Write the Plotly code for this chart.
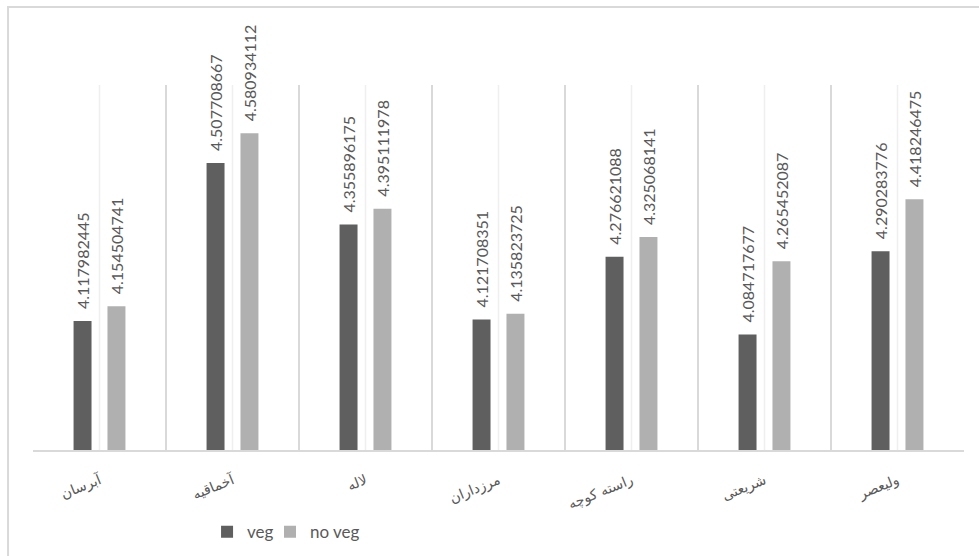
import plotly.graph_objects as go

# Mean scores per street, with and without vegetation
streets = ["آبرسان", "آخماقیه", "لاله", "مرزداران", "راسته کوچه", "شریعتی", "ولیعصر"]
veg = [4.117982445, 4.507708667, 4.355896175, 4.121708351, 4.276621088, 4.084717677, 4.290283776]
no_veg = [4.154504741, 4.580934112, 4.395111978, 4.135823725, 4.325068141, 4.265452087, 4.418246475]

series_names = ["veg", "no veg"]
series_colors = ["#5f5f5f", "#b0b0b0"]
y_range = [3.8, 4.7]

label_color = "#595959"
grid_color = "#d9d9d9"

fig = go.Figure()
for name, vals, color, lg in zip(series_names, [veg, no_veg], series_colors, ["legend", "legend2"]):
    fig.add_trace(go.Bar(x=streets, y=vals, name=name, marker_color=color,
                         marker_line_width=0, legend=lg))

# value labels, rotated, above each bar
for vals, shift in [(veg, -17), (no_veg, 17)]:
    for s, v in zip(streets, vals):
        fig.add_annotation(x=s, y=v, text=f"{v}", textangle=-90, showarrow=False,
                           xanchor="center", yanchor="bottom", xshift=shift, yshift=10,
                           font=dict(family="Lato", size=16, color=label_color))

# faint line through the middle of each category
for s in streets:
    fig.add_shape(type="line", xref="x", yref="y", x0=s, x1=s, y0=y_range[0], y1=y_range[1],
                  line=dict(color="#efefef", width=1.5), layer="below")

# chart-area frame
fig.add_shape(type="rect", xref="paper", yref="paper", x0=-0.0268, x1=1.2, y0=-0.5, y1=1.2137,
              line=dict(color=grid_color, width=2), fillcolor="rgba(0,0,0,0)")

legend_style = dict(orientation="h", xref="container", yref="container",
                    y=0.075, xanchor="left", yanchor="top", bgcolor="rgba(0,0,0,0)",
                    font=dict(family="Lato", size=17, color=label_color))

fig.update_layout(
    width=979, height=556,
    margin=dict(l=33, r=15, t=85, b=106, autoexpand=False),
    paper_bgcolor="white", plot_bgcolor="white",
    barmode="group", bargap=0.49, bargroupgap=0.47,
    showlegend=True,
    legend=dict(x=0.2115, **legend_style),
    legend2=dict(x=0.2758, **legend_style),
)
fig.update_xaxes(tickson="boundaries", showgrid=True, gridcolor=grid_color, gridwidth=2,
                 showline=True, linecolor=grid_color, linewidth=2, ticks="",
                 ticklabelstandoff=15,
                 tickangle=-22, tickfont=dict(family="DejaVu Sans", size=14, color=label_color))
fig.update_yaxes(range=y_range, showgrid=False, showticklabels=False, zeroline=False)

fig.write_html("out.html")
